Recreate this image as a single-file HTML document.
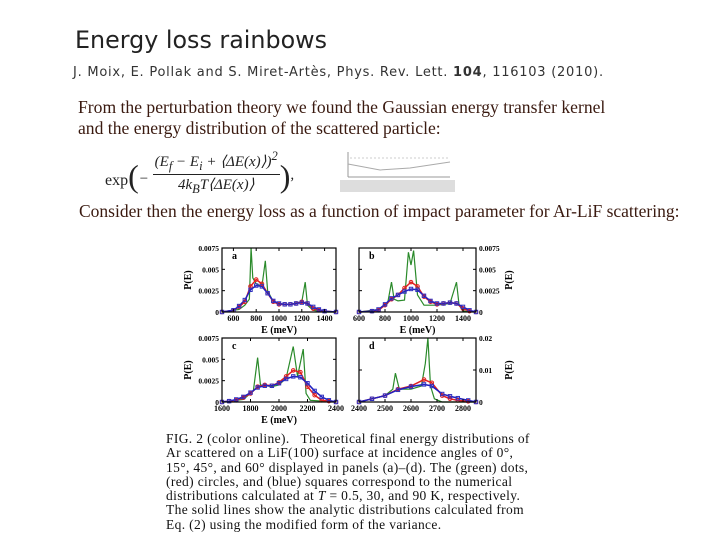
<!DOCTYPE html>
<html><head><meta charset="utf-8"><style>
body{margin:0;width:720px;height:540px;background:#fff;overflow:hidden;position:relative;font-family:"Liberation Sans",sans-serif}
.a{position:absolute;white-space:nowrap}
.ser{font-family:"Liberation Serif",serif}
</style></head><body>
<div class="a" style="left:75px;top:26px;font-family:'DejaVu Sans',sans-serif;font-size:23.8px;color:#222">Energy loss rainbows</div>
<div class="a" style="left:73px;top:65px;font-family:'DejaVu Sans',sans-serif;font-size:13px;letter-spacing:0.75px;color:#333">J. Moix, E. Pollak and S. Miret-Artès, Phys. Rev. Lett. <b>104</b>, 116103 (2010).</div>
<div class="a ser" style="left:78px;top:97px;font-size:17.6px;line-height:21px;color:#3a1a10">From the perturbation theory we found the Gaussian energy transfer kernel<br>and the energy distribution of the scattered particle:</div>
<div class="a ser" style="left:105px;top:150px;font-size:15px;color:#222;font-style:italic">
<span style="font-style:normal;font-size:16px;position:relative;top:6px">exp</span><span style="font-size:32px;position:relative;top:8px;font-style:normal">(</span><span style="position:relative;top:4px">−</span>
<span style="display:inline-block;text-align:center;vertical-align:middle;margin-top:-6px"><span style="display:block;border-bottom:1px solid #222;padding:0 2px">(E<sub>f</sub> − E<sub>i</sub> + ⟨ΔE(x)⟩)<sup>2</sup></span><span style="display:block">4k<sub>B</sub>T⟨ΔE(x)⟩</span></span><span style="font-size:32px;position:relative;top:8px;font-style:normal">)</span>,</div>
<svg class="a" style="left:340px;top:150px" width="115" height="45">
<line x1="8" y1="2" x2="8" y2="27" stroke="#999"/><line x1="8" y1="27" x2="110" y2="27" stroke="#999"/>
<polyline points="8,14 40,20 70,18 110,12" fill="none" stroke="#aaa"/><line x1="10" y1="8" x2="110" y2="8" stroke="#ccc" stroke-dasharray="2,2"/>
<rect x="0" y="30" width="115" height="12" fill="#ddd"/></svg>
<div class="a ser" style="left:79px;top:201px;font-size:17.5px;color:#3a1a10">Consider then the energy loss as a function of impact parameter for Ar-LiF scattering:</div>
<svg id="fig" class="a" style="left:0;top:0" width="720" height="540"></svg>
<div class="a ser" style="left:166px;top:432px;font-size:13.5px;letter-spacing:0.35px;line-height:14.3px;color:#111">FIG. 2 (color online).&nbsp;&nbsp; Theoretical final energy distributions of<br>Ar scattered on a LiF(100) surface at incidence angles of 0°,<br>15°, 45°, and 60° displayed in panels (a)–(d). The (green) dots,<br>(red) circles, and (blue) squares correspond to the numerical<br>distributions calculated at <i>T</i> = 0.5, 30, and 90 K, respectively.<br>The solid lines show the analytic distributions calculated from<br>Eq. (2) using the modified form of the variance.</div>
<script>
const aE=[500,650,700,740,755,770,800,850,880,900,950,1000,1100,1200,1230,1250,1300,1400,1500];
const aG=[0,0.0003,0.0008,0.0015,0.0075,0.004,0.0033,0.003,0.006,0.0025,0.0012,0.0009,0.0009,0.0012,0.0035,0.0008,0.0002,0,0];
const aRE=[500,600,650,700,750,800,850,900,950,1000,1050,1100,1150,1200,1250,1300,1350,1400,1500];
const aR=[0,0.0002,0.0006,0.0012,0.003,0.0038,0.0033,0.0022,0.0012,0.0009,0.0009,0.0009,0.001,0.0012,0.001,0.0004,0.0002,0.0001,0];
const aB=[0,0.0002,0.0007,0.0014,0.0026,0.0031,0.003,0.0022,0.0013,0.001,0.0009,0.0009,0.001,0.0011,0.001,0.0006,0.0003,0.0001,0];
const bE=[600,750,820,850,870,900,950,980,1000,1020,1050,1100,1200,1300,1350,1370,1400,1500];
const bG=[0,0.0003,0.001,0.0035,0.0015,0.0013,0.0014,0.007,0.0055,0.0072,0.002,0.0008,0.0008,0.001,0.0035,0.0008,0.0001,0];
const bRE=[600,700,750,800,850,900,950,1000,1050,1100,1150,1200,1250,1300,1350,1400,1450,1500];
const bR=[0,0.0001,0.0002,0.0008,0.0015,0.002,0.0028,0.0035,0.003,0.0018,0.0012,0.0009,0.001,0.0011,0.001,0.0004,0.0001,0];
const bB=[0,0.0001,0.0003,0.0009,0.0016,0.002,0.0024,0.0027,0.0026,0.0019,0.0013,0.001,0.001,0.0011,0.001,0.0006,0.0002,0];
const cE=[1600,1750,1820,1850,1870,1950,2000,2050,2100,2130,2170,2190,2220,2400];
const cG=[0,0.0003,0.0013,0.0052,0.002,0.0018,0.002,0.0028,0.0065,0.003,0.0062,0.001,0.0002,0];
const cRE=[1600,1650,1700,1750,1800,1850,1900,1950,2000,2050,2100,2150,2200,2250,2300,2350,2400];
const cR=[0,0.0001,0.0002,0.0005,0.001,0.0018,0.002,0.0019,0.0023,0.003,0.0037,0.0035,0.0018,0.0008,0.0002,0.0001,0];
const cB=[0,0.0001,0.0003,0.0006,0.0011,0.0017,0.0019,0.0019,0.0022,0.0027,0.003,0.0029,0.0022,0.0013,0.0006,0.0002,0];
const dE=[2400,2500,2530,2540,2555,2600,2640,2655,2665,2675,2690,2720,2850];
const dG=[0,0.002,0.004,0.009,0.004,0.004,0.005,0.012,0.02,0.005,0.001,0,0];
const dRE=[2400,2450,2500,2550,2600,2650,2680,2720,2750,2780,2820,2850];
const dR=[0,0.001,0.002,0.004,0.005,0.007,0.006,0.002,0.001,0.0005,0.0002,0];
const dB=[0,0.001,0.002,0.0038,0.0048,0.0055,0.005,0.0025,0.0018,0.0012,0.0005,0];
const NS='http://www.w3.org/2000/svg',svg=document.getElementById('fig');
function mk(t,a){const e=document.createElementNS(NS,t);for(const k in a)e.setAttribute(k,a[k]);svg.appendChild(e);return e;}
function panel(id,L,T,W,H,x0,x1,xt,y1,yt,right,E,G,RE,R,B,lbl){
 const X=v=>L+(v-x0)/(x1-x0)*W, Y=v=>T+H-v/y1*H;
 let p=mk('polyline',{points:E.map((e,i)=>X(e)+','+Y(G[i])).join(' '),fill:'none',stroke:'#2a8a2a','stroke-width':1.2});
 
 p=mk('polyline',{points:RE.map((e,i)=>X(e)+','+Y(R[i])).join(' '),fill:'none',stroke:'#e02020','stroke-width':1.5});
 
 p=mk('polyline',{points:RE.map((e,i)=>X(e)+','+Y(B[i])).join(' '),fill:'none',stroke:'#2020c0','stroke-width':1.5});
 
 RE.forEach((e,i)=>{let c=mk('circle',{cx:X(e),cy:Y(R[i]),r:1.8,fill:'none',stroke:'#e02020','stroke-width':1});
  
  let s=mk('rect',{x:X(e)-1.7,y:Y(B[i])-1.7,width:3.4,height:3.4,fill:'none',stroke:'#3030c0','stroke-width':1});
  });
 let f=mk('rect',{x:L,y:T,width:W,height:H,fill:'none',stroke:'#000','stroke-width':1.2});
 
 xt.forEach(v=>{mk('line',{x1:X(v),x2:X(v),y1:T+H,y2:T+H-3,stroke:'#000'});mk('line',{x1:X(v),x2:X(v),y1:T,y2:T+3,stroke:'#000'});
  let t=mk('text',{x:X(v),y:T+H+9,'font-size':8,'font-family':'Liberation Serif, serif','font-weight':'bold','text-anchor':'middle'});t.textContent=v;
  });
 yt.forEach(v=>{mk('line',{x1:L,x2:L+3,y1:Y(v),y2:Y(v),stroke:'#000'});mk('line',{x1:L+W,x2:L+W-3,y1:Y(v),y2:Y(v),stroke:'#000'});
  let t=mk('text',{x:right?L+W+3:L-3,y:Y(v)+3,'font-size':7.5,'font-family':'Liberation Serif, serif','font-weight':'bold','text-anchor':right?'start':'end'});t.textContent=v;
  });
 let t=mk('text',{x:L+10,y:T+11,'font-size':10,'font-family':'Liberation Serif, serif','font-weight':'bold'});t.textContent=id;
 
 const yx=right?L+W+36:L-31,yc=T+H/2;
 t=mk('text',{x:yx,y:yc,'font-size':10,'font-family':'Liberation Serif, serif','font-weight':'bold','text-anchor':'middle',transform:'rotate(-90 '+yx+' '+yc+')'});t.textContent='P(E)';
 
 if(lbl){t=mk('text',{x:L+W/2,y:T+H+21,'font-size':10,'font-family':'Liberation Serif, serif','font-weight':'bold','text-anchor':'middle'});t.textContent='E (meV)';
 }
}
const yt1=[0,0.0025,0.005,0.0075];
panel('a',222,248,114,64,500,1500,[600,800,1000,1200,1400],0.0075,yt1,false,aE,aG,aRE,aR,aB,true);
panel('b',359,248,117,64,600,1500,[600,800,1000,1200,1400],0.0075,yt1,true,bE,bG,bRE,bR,bB,true);
panel('c',222,338,114,64,1600,2400,[1600,1800,2000,2200,2400],0.0075,yt1,false,cE,cG,cRE,cR,cB,true);
panel('d',359,338,117,64,2400,2850,[2400,2500,2600,2700,2800],0.02,[0,0.01,0.02],true,dE,dG,dRE,dR,dB,false);
</script>
</body></html>
